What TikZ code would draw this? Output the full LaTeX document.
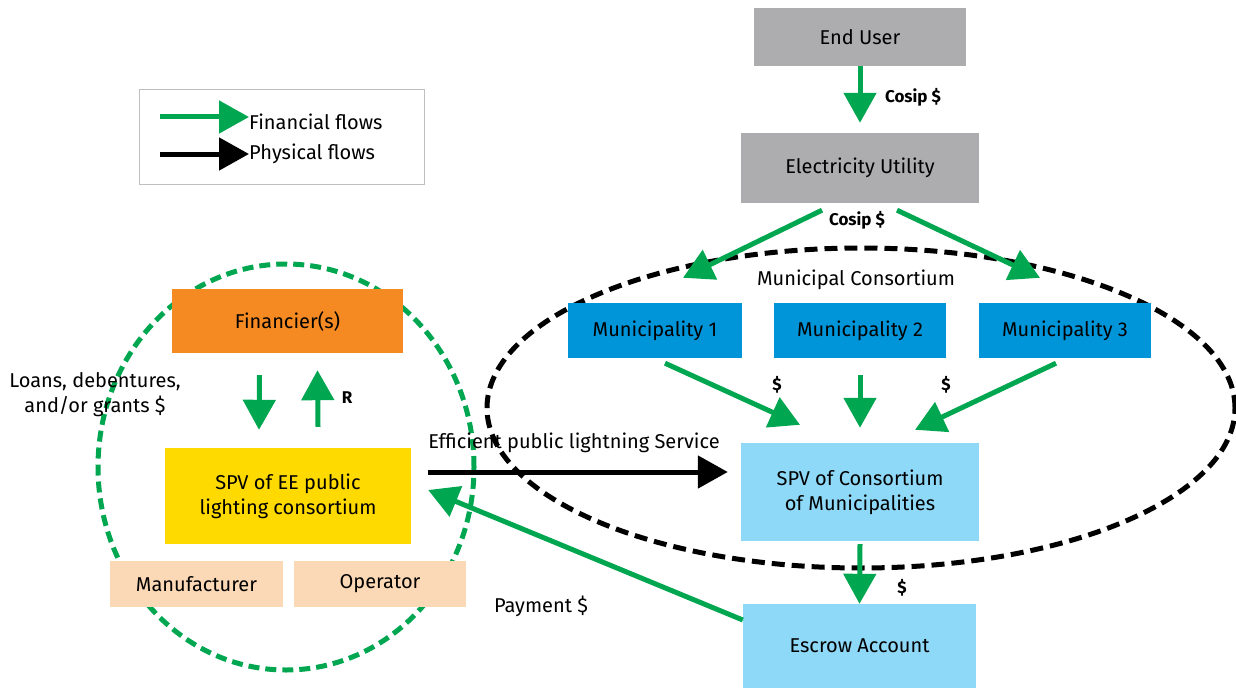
\documentclass[tikz,border=0pt]{standalone}
\usepackage{fontspec}
\setmainfont{Fira Sans}
\usetikzlibrary{arrows.meta}
\definecolor{fgreen}{HTML}{00A650}
\definecolor{ugray}{HTML}{ADADB0}
\definecolor{mblue}{HTML}{0095D9}
\definecolor{lblue}{HTML}{8ED8F8}
\definecolor{eyellow}{HTML}{FFDA00}
\definecolor{forange}{HTML}{F58A22}
\definecolor{peach}{HTML}{FCD9B6}
\begin{document}
\begin{tikzpicture}[x=1pt,y=-1pt,
  box/.style={rectangle, inner sep=0pt, align=center, font=\fontsize{20}{25}\selectfont},
  txt/.style={inner sep=0pt, align=center, font=\fontsize{20}{25}\selectfont},
  blab/.style={inner sep=0pt, font=\fontsize{17}{20}\selectfont\bfseries},
  fin/.style={draw=fgreen, line width=5pt, -{Triangle[length=30pt,width=32pt]}},
  phy/.style={draw=black, line width=5pt, -{Triangle[length=30pt,width=32pt]}}
]
\useasboundingbox (0,0) rectangle (1236,690);
% ellipses
\draw[fgreen, line width=5pt, dash pattern=on 11pt off 6pt] (286,467) ellipse [x radius=188pt, y radius=203pt];
\draw[black, line width=5pt, dash pattern=on 13pt off 7pt] (861,408) ellipse [x radius=374pt, y radius=160pt];
% legend
\node[draw=black!25, line width=0.8pt, minimum width=285pt, minimum height=95pt, inner sep=0pt] (leg) at (281.5,136.5) {};
\coordinate (lg1) at (160,117); \coordinate (lg1e) at (249,117);
\coordinate (lg2) at (160,154); \coordinate (lg2e) at (249,154);
\draw[fin] (lg1) -- (lg1e);
\draw[phy] (lg2) -- (lg2e);
\node[txt, anchor=west] (lgt1) at (249,122) {Financial flows};
\node[txt, anchor=west] (lgt2) at (249,154) {Physical flows};
% boxes
\node[box, fill=ugray, minimum width=212pt, minimum height=58pt] (eu) at (860,37) {End User};
\node[box, fill=ugray, minimum width=238pt, minimum height=70pt] (ut) at (860,168) {Electricity Utility};
\node[box, fill=mblue, minimum width=174pt, minimum height=55pt] (m1) at (655,330.5) {Municipality 1};
\node[box, fill=mblue, minimum width=172pt, minimum height=55pt] (m2) at (860,330.5) {Municipality 2};
\node[box, fill=mblue, minimum width=172pt, minimum height=55pt] (m3) at (1065,330.5) {Municipality 3};
\node[box, fill=lblue, minimum width=238pt, minimum height=98pt] (spvc) at (860,492) {SPV of Consortium\\of Municipalities};
\node[box, fill=lblue, minimum width=233pt, minimum height=84pt] (esc) at (859.5,646) {Escrow Account};
\node[box, fill=forange, minimum width=231pt, minimum height=64pt] (fin) at (287.5,321) {Financier(s)};
\node[box, fill=eyellow, minimum width=246pt, minimum height=96pt] (spve) at (288,496) {SPV of EE public\\lighting consortium};
\node[box, fill=peach, minimum width=173pt, minimum height=46pt] (man) at (196.5,584) {Manufacturer};
\node[box, fill=peach, minimum width=172pt, minimum height=46pt] (op) at (380,584) {\raisebox{2pt}{Operator}};
% labels
\node[blab] (c1) at (913,97) {Cosip \$};
\node[blab] (c2) at (857,220) {Cosip \$};
\node[txt] (mc) at (856,280) {Municipal Consortium};
\node[blab] (d1) at (777,385) {\$};
\node[blab] (d3) at (946,385) {\$};
\node[blab] (d4) at (902,588) {\$};
\node[blab] (rr) at (347,398) {R};
\node[txt] (loans) at (95,395) {Loans, debentures,\\and/or grants \$};
\node[txt] (eff) at (574,443) {Efficient public lightning Service};
\node[txt] (pay) at (541,606) {Payment \$};
% financial arrows
\draw[fin, shorten >=10pt] (eu.south) -- (ut.north);
\draw[fin] ([xshift=-38pt,yshift=-7pt]ut.south) -- ([xshift=28pt,yshift=25pt]m1.north);
\draw[fin] ([xshift=37pt,yshift=-7pt]ut.south) -- ([xshift=-25pt,yshift=25pt]m3.north);
\draw[fin] ([xshift=10pt,yshift=-5pt]m1.south) -- ([xshift=-60pt,yshift=18pt]spvc.north);
\draw[fin] ([yshift=-17pt]m2.south) -- ([yshift=15pt]spvc.north);
\draw[fin] ([xshift=-9pt,yshift=-5pt]m3.south) -- ([xshift=55pt,yshift=13pt]spvc.north);
\draw[fin] ([yshift=-3pt]spvc.south) -- (esc.north);
\draw[fin] ([yshift=26pt]esc.west) -- ([xshift=17pt,yshift=6pt]spve.east);
\draw[fin] ([xshift=-28pt,yshift=-22pt]fin.south) -- ([xshift=-29pt,yshift=18pt]spve.north);
\draw[fin] ([xshift=30pt,yshift=21pt]spve.north) -- ([xshift=30pt,yshift=-17pt]fin.south);
% physical
\draw[phy] ([xshift=17pt,yshift=24pt]spve.east) -- ([xshift=-13pt,yshift=20pt]spvc.west);
\end{tikzpicture}
\end{document}
